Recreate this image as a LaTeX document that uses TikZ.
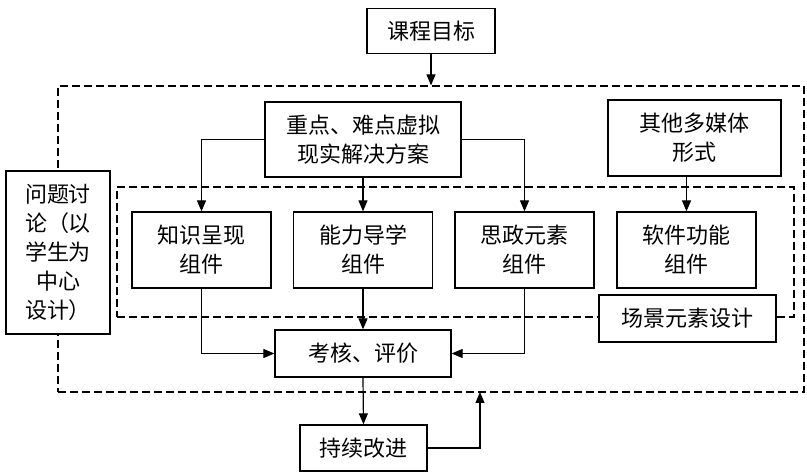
\documentclass[tikz,border=0pt]{standalone}
\usepackage{fontspec}
\setmainfont{Noto Sans CJK SC}
\usetikzlibrary{arrows.meta}
\begin{document}
\begin{tikzpicture}[x=1pt,y=-1pt,
 box/.style={draw, line width=1.3pt, fill=white, inner sep=0pt, align=center, font=\fontsize{22}{29}\selectfont},
 dashbox/.style={draw, line width=1.2pt, dash pattern=on 8pt off 4pt, inner sep=0pt},
 arr/.style={line width=1.2pt, -{Triangle[length=11pt,width=9pt]}}]
\useasboundingbox (0,0) rectangle (807,473);
% dashed frames
\node[dashbox, minimum width=746pt, minimum height=306pt] (outer) at (431,239) {};
\node[dashbox, minimum width=677pt, minimum height=130pt] (inner) at (455.5,252) {};
% boxes
\node[box, minimum width=128pt, minimum height=45pt] (goal) at (431,31) {课程目标};
\node[box, minimum width=196pt, minimum height=75pt] (vr) at (363,139.5) {重点、难点虚拟\\现实解决方案};
\node[box, minimum width=173pt, minimum height=76pt] (mm) at (694.5,138) {其他多媒体\\形式};
\node[box, minimum width=104pt, minimum height=163pt] (disc) at (58,252.5) {问题讨\\论（以\\学生为\\中心\\设计）};
\node[box, minimum width=139pt, minimum height=76pt] (k1) at (201.5,250) {知识呈现\\组件};
\node[box, minimum width=139pt, minimum height=76pt] (k2) at (363,250) {能力导学\\组件};
\node[box, minimum width=139pt, minimum height=76pt] (k3) at (524.5,250) {思政元素\\组件};
\node[box, minimum width=139pt, minimum height=76pt] (k4) at (686.5,250) {软件功能\\组件};
\node[box, minimum width=177pt, minimum height=47pt] (scene) at (687.5,318.5) {场景元素设计};
\node[box, minimum width=176pt, minimum height=47pt] (eval) at (363,353.5) {考核、评价};
\node[box, minimum width=127pt, minimum height=46pt] (imp) at (363.5,448) {持续改进};
\coordinate (fb) at (480,392);
% connectors
\draw[arr] (goal.south) -- (outer.north);
\draw[arr] (vr.west) -| (k1.north);
\draw[arr] (vr.south) -- (k2.north);
\draw[arr] (vr.east) -| (k3.north);
\draw[arr] (k4.north |- mm.south) -- (k4.north);
\draw[arr] (k1.south) |- (eval.west);
\draw[arr] (k2.south) -- (eval.north);
\draw[arr] (k3.south) |- (eval.east);
\draw[arr] (eval.south) -- (imp.north);
\draw[arr] (imp.east) -| (fb);
\end{tikzpicture}
\end{document}
